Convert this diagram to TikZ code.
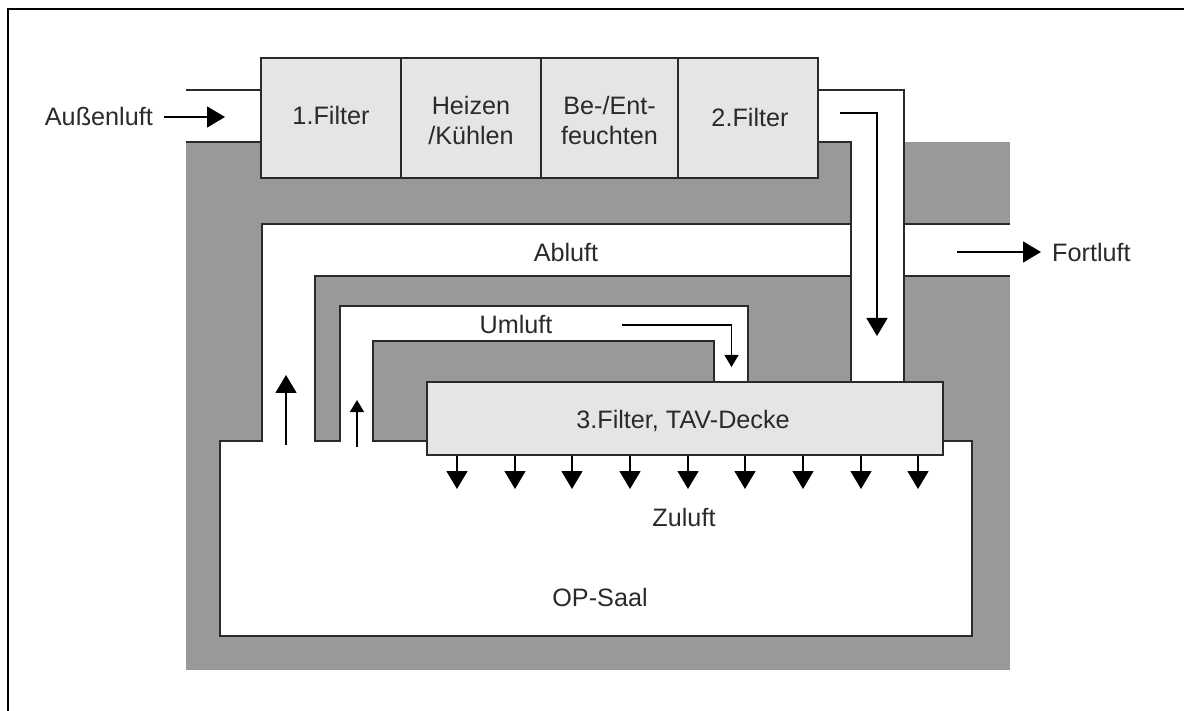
\documentclass[tikz,border=0pt]{standalone}
\usepackage{fontspec}
\setmainfont{Liberation Sans}
\usetikzlibrary{arrows.meta}
\definecolor{wallgray}{HTML}{999999}
\definecolor{boxgray}{HTML}{E5E5E5}
\definecolor{inkdark}{HTML}{2A2A2A}
\tikzset{
  wall/.style={draw=inkdark,line width=1.8pt,line join=miter},
  cell/.style={draw=inkdark,fill=boxgray,line width=1.8pt,inner sep=0pt},
  lab/.style={inner sep=0pt,text=inkdark,align=center,font=\fontsize{25.2}{30}\selectfont},
  bigflow/.style={draw=black,line width=1.5pt,-{Triangle[length=18pt,width=21pt]}},
  smallflow/.style={draw=black,line width=1.5pt,-{Triangle[length=12pt,width=14pt]}}
}
\begin{document}
\begin{tikzpicture}[x=1pt,y=-1pt]
\useasboundingbox (0,0) rectangle (1184,711);
\fill[white] (0,0) rectangle (1184,711);
% page frame (left and top only)
\coordinate (fa) at (8,711); \coordinate (fb) at (8,9); \coordinate (fc) at (1184,9);
\draw[black,line width=2pt] (fa) -- (fb) -- (fc);
% building mass
\fill[wallgray] (186,142) rectangle (1010,670);
% white ducts and room
\fill[white] (186,90) rectangle (262,142);
\fill[white] (818,90) rectangle (904,142);
\fill[white] (851,142) rectangle (904,382);
\fill[white] (262,224) rectangle (1010,276);
\fill[white] (262,224) rectangle (315,441);
\fill[white] (340,306) rectangle (748,341);
\fill[white] (340,306) rectangle (373,441);
\fill[white] (714,306) rectangle (748,382);
\fill[white] (220,441) rectangle (972,636);
% wall outlines
\draw[wall] (186,90) -- (262,90);
\draw[wall] (186,142) -- (262,142);
\draw[wall] (818,90) -- (904,90) -- (904,382);
\draw[wall] (818,142) -- (851,142) -- (851,382);
\draw[wall] (851,224) -- (262,224) -- (262,441) -- (220,441) -- (220,636) -- (972,636) -- (972,441) -- (943,441);
\draw[wall] (904,224) -- (1010,224);
\draw[wall] (904,276) -- (1010,276);
\draw[wall] (851,276) -- (315,276) -- (315,441) -- (340,441) -- (340,306) -- (748,306) -- (748,382);
\draw[wall] (714,382) -- (714,341) -- (373,341) -- (373,441) -- (427,441);
% units
\node[cell,minimum width=140pt,minimum height=120pt,label={[lab,name=f1t,yshift=3pt]center:1.Filter}] (f1) at (331,118) {};
\node[cell,minimum width=140pt,minimum height=120pt,label={[lab,name=hkt,yshift=-2pt]center:{Heizen\\/Kühlen}}] (hk) at (471,118) {};
\node[cell,minimum width=137pt,minimum height=120pt,label={[lab,name=bet,yshift=-2pt]center:{Be-/Ent-\\feuchten}}] (be) at (609.5,118) {};
\node[cell,minimum width=140pt,minimum height=120pt,label={[lab,name=f2t,xshift=2pt,yshift=1pt]center:2.Filter}] (f2) at (748,118) {};
\node[cell,minimum width=516pt,minimum height=73pt,label={[lab,name=tavt,xshift=-2pt,yshift=-2pt]center:{3.Filter, TAV-Decke}}] (tav) at (685,418.5) {};
% labels
\node[lab,anchor=east] (aussen) at (153,116) {Außenluft};
\node[lab,anchor=west] (fort) at (1052,252) {Fortluft};
\node[lab] (abl) at (566,252) {Abluft};
\node[lab] (uml) at (516,324) {Umluft};
\node[lab] (zul) at (684,517) {Zuluft};
\node[lab] (op) at (600,597) {OP-Saal};
% flow arrows
\coordinate (a1s) at (164,117); \coordinate (a1e) at (225,117);
\draw[bigflow] (a1s) -- (a1e);
\coordinate (a2s) at (957,252); \coordinate (a2e) at (1041,252);
\draw[bigflow] (a2s) -- (a2e);
\coordinate (a3s) at (840,113); \coordinate (a3m) at (877,113); \coordinate (a3e) at (877,336);
\draw[bigflow] (a3s) -- (a3m) -- (a3e);
\coordinate (a4s) at (622,325); \coordinate (a4m) at (731.5,325); \coordinate (a4e) at (731.5,367);
\draw[smallflow] (a4s) -- (a4m) -- (a4e);
\coordinate (a5s) at (286,445); \coordinate (a5e) at (286,375);
\draw[bigflow] (a5s) -- (a5e);
\coordinate (a6s) at (357,447); \coordinate (a6e) at (357,400);
\draw[smallflow] (a6s) -- (a6e);
\foreach \i/\x in {1/457,2/515,3/572,4/630,5/688,6/745,7/803,8/861,9/918}{
  \coordinate (z\i) at (\x,489);
  \draw[bigflow] (z\i |- tav.south) -- (z\i);
}
\end{tikzpicture}
\end{document}
